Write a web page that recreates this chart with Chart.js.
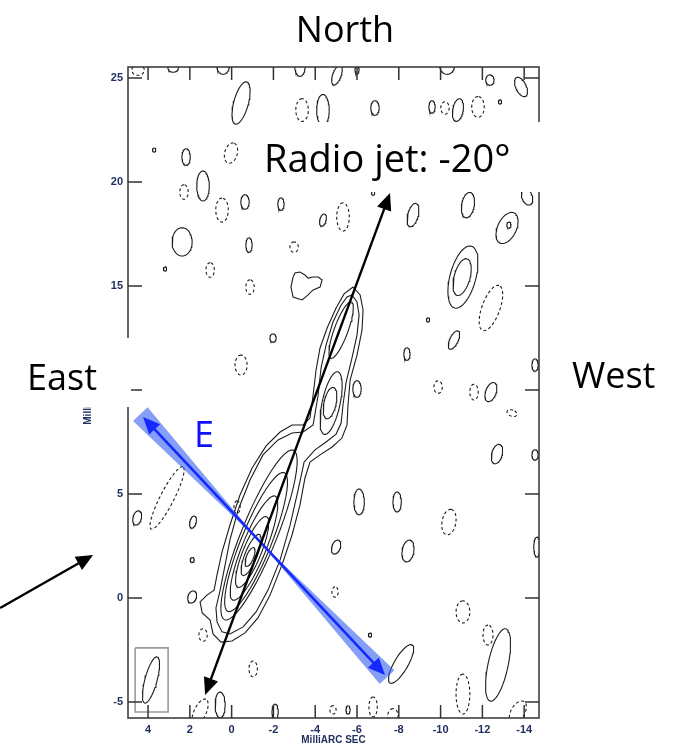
<!DOCTYPE html>
<html lang="en">
<head>
<meta charset="UTF-8">
<title>Radio jet map</title>
<script src="https://cdn.jsdelivr.net/npm/chart.js@4"></script>
<style>
  html, body { margin: 0; padding: 0; background: #fff; }
</style>
</head>
<body>
<canvas id="map" width="675" height="746"></canvas>
<script>
// axes, MilliARC SEC (RA grows to the left)
const xTicks = [4, 2, 0, -2, -4, -6, -8, -10, -12, -14];
const yTicks = [25, 20, 15, 10, 5, 0, -5];
const xRange = [-14.71, 4.96];
const yRange = [-5.77, 25.53];

// contours: [x, y, half width, half height, tilt deg (top leaning west)]
const solidOvals = [
    [2.80, 25.48, 0.25, 0.2, 0], [0.41, 25.58, 0.3, 0.4, 0], [-0.45, 23.80, 0.35, 1.05, 15],
    [-3.27, 25.58, 0.25, 0.5, 0], [-5.04, 25.14, 0.2, 0.5, 20], [-6.0, 25.4, 0.1, 0.2, 0],
    [-10.31, 25.58, 0.35, 0.4, 0], [-12.36, 24.9, 0.2, 0.25, 0], [-13.85, 24.57, 0.25, 0.5, -25],
    [-4.37, 23.46, 0.3, 0.75, 0], [-6.86, 23.56, 0.2, 0.35, 0], [-9.59, 23.61, 0.15, 0.3, 0],
    [-10.83, 23.46, 0.25, 0.55, 10], [-12.84, 23.85, 0.08, 0.1, 0], [3.71, 21.54, 0.08, 0.1, 0],
    [2.18, 21.2, 0.2, 0.4, 0], [1.37, 19.81, 0.3, 0.72, 0], [-0.64, 19.04, 0.2, 0.35, 0],
    [2.37, 17.12, 0.48, 0.68, 0], [-0.83, 16.97, 0.15, 0.35, 0], [-2.36, 18.94, 0.15, 0.3, 0],
    [-4.37, 18.17, 0.15, 0.3, 15], [3.19, 15.82, 0.08, 0.1, 0], [-1.98, 12.5, 0.15, 0.2, 0],
    [-6.77, 19.47, 0.08, 0.1, 0], [-8.68, 18.41, 0.25, 0.58, 15], [-11.31, 18.89, 0.3, 0.62, 10],
    [-14.14, 19.28, 0.25, 0.4, -20], [-13.18, 17.79, 0.45, 0.8, 25], [-13.27, 17.93, 0.1, 0.15, 0],
    [-11.07, 15.43, 0.62, 1.54, 15], [-11.03, 15.43, 0.38, 0.91, 15], [-9.40, 13.37, 0.08, 0.1, 0],
    [-10.64, 12.40, 0.2, 0.48, 25], [-8.39, 11.73, 0.15, 0.3, 0], [-14.52, 11.2, 0.15, 0.3, 0],
    [-6.0, 10.05, 0.2, 0.4, 0], [-12.41, 9.9, 0.25, 0.48, 20], [-12.70, 6.92, 0.25, 0.48, 15],
    [-14.52, 6.88, 0.15, 0.25, 0], [-6.10, 4.62, 0.25, 0.62, 0], [-7.92, 4.62, 0.2, 0.48, 0],
    [-8.44, 2.26, 0.28, 0.53, 10], [-5.0, 2.45, 0.2, 0.35, 20], [-14.61, 2.45, 0.15, 0.48, 0],
    [-12.75, -3.22, 0.48, 1.78, 12], [-8.11, -3.17, 0.33, 1.06, 30], [-6.62, -1.78, 0.08, 0.1, 0],
    [1.89, 1.83, 0.1, 0.12, 0], [1.89, 0.05, 0.2, 0.3, 20], [0.55, -5.14, 0.24, 0.62, 0],
    [-2.08, -5.48, 0.15, 0.38, 0], [-5.57, -5.38, 0.1, 0.2, 0], [4.52, 3.85, 0.2, 0.35, 15],
    [1.85, 3.65, 0.15, 0.3, 15]
];
const dashedOvals = [
    [4.48, 25.38, 0.3, 0.25, 0], [-3.37, 23.46, 0.3, 0.55, 0], [-10.21, 23.56, 0.2, 0.3, 0],
    [-11.79, 23.61, 0.3, 0.5, 0], [0.03, 21.39, 0.3, 0.5, 15], [2.28, 19.52, 0.2, 0.35, 0],
    [0.46, 18.65, 0.3, 0.58, 0], [-5.33, 18.32, 0.3, 0.68, 0], [-2.99, 16.87, 0.2, 0.25, 0],
    [1.03, 15.77, 0.2, 0.35, 0], [-0.88, 14.95, 0.2, 0.35, 0], [-12.41, 13.94, 0.43, 1.15, 20],
    [-9.88, 10.14, 0.2, 0.3, 0], [-11.60, 9.9, 0.2, 0.38, 0], [-13.42, 8.89, 0.25, 0.15, 20],
    [-10.40, 3.65, 0.33, 0.62, 10], [-11.07, -0.67, 0.33, 0.53, 0], [-12.27, -1.78, 0.24, 0.48, 0],
    [-6.77, -5.24, 0.2, 0.48, 0], [-7.72, -5.67, 0.25, 0.35, 0], [-11.07, -4.62, 0.33, 0.96, 0],
    [-13.70, -5.48, 0.33, 0.58, 30], [1.37, -1.78, 0.2, 0.3, 0], [-1.03, -3.41, 0.2, 0.38, 0],
    [-4.95, 0.29, 0.15, 0.25, 0], [1.51, -5.48, 0.29, 0.67, 25], [-4.85, -5.38, 0.15, 0.2, 0],
    [-0.45, 11.2, 0.29, 0.48, 0], [3.09, 4.81, 0.33, 1.68, 27], [-0.26, 4.37, 0.15, 0.3, 0]
];
// nested levels inside the jet (core, knot, tip)
const jetOvals = [
    [-1.31, 3.03, 0.85, 4.4, 22], [-1.17, 2.69, 0.72, 3.6, 22], [-1.07, 2.4, 0.57, 2.7, 22],
    [-0.98, 2.21, 0.43, 1.83, 22], [-0.93, 2.07, 0.29, 1.06, 22], [-0.88, 1.97, 0.17, 0.48, 22],
    [-4.76, 9.37, 0.43, 1.54, 12], [-4.71, 9.37, 0.29, 0.77, 12], [-5.24, 12.88, 0.33, 1.44, 20]
];
// outer two jet contours
const jetOuter = [
    [-5.81, 14.95], [-6.15, 14.57], [-6.29, 13.85], [-6.24, 12.88], [-6.0, 11.68], [-5.67, 10.48],
    [-5.57, 9.28], [-5.52, 8.32], [-5.28, 7.69], [-4.81, 7.26], [-4.23, 6.88], [-3.75, 6.54],
    [-3.51, 5.77], [-3.27, 4.47], [-2.89, 3.03], [-2.41, 1.59], [-1.84, 0.14], [-1.26, -0.96],
    [-0.64, -1.68], [-0.02, -2.07], [0.51, -2.12], [0.89, -1.73], [1.03, -1.06], [1.41, -0.72],
    [1.51, -0.19], [1.18, 0.14], [0.84, 0.38], [0.70, 1.11], [0.46, 2.21], [0.08, 3.51],
    [-0.40, 4.95], [-0.98, 6.25], [-1.65, 7.31], [-2.32, 7.98], [-2.89, 8.32], [-3.42, 8.32],
    [-3.75, 8.65], [-3.90, 9.76], [-4.04, 10.96], [-4.23, 12.02], [-4.57, 12.98], [-5.0, 13.94],
    [-5.38, 14.62]
];
const jetSecond = [
    [-5.76, 14.57], [-6.0, 14.23], [-6.10, 13.61], [-6.0, 12.64], [-5.76, 11.54], [-5.48, 10.38],
    [-5.33, 9.28], [-5.24, 8.41], [-5.0, 7.88], [-4.52, 7.5], [-3.99, 7.12], [-3.47, 6.54],
    [-3.18, 5.19], [-2.80, 3.51], [-2.32, 1.83], [-1.74, 0.38], [-1.17, -0.67], [-0.55, -1.39],
    [0.08, -1.73], [0.46, -1.63], [0.70, -1.15], [0.75, -0.48], [0.55, 0.38], [0.36, 1.35],
    [0.08, 2.79], [-0.31, 4.23], [-0.88, 5.67], [-1.50, 6.88], [-2.22, 7.6], [-2.89, 7.93],
    [-3.42, 7.98], [-3.90, 8.32], [-4.14, 9.76], [-4.28, 11.06], [-4.52, 12.16], [-4.85, 13.27],
    [-5.24, 14.09], [-5.52, 14.47]
];
const blob = [
    [-2.94, 15.43], [-2.84, 14.95], [-2.94, 14.47], [-3.37, 14.33], [-3.66, 14.57], [-3.90, 14.81],
    [-4.23, 14.95], [-4.33, 15.29], [-4.14, 15.43], [-3.90, 15.43], [-3.66, 15.38], [-3.51, 15.53],
    [-3.27, 15.67], [-3.03, 15.63]
];
const beam = [3.86, -3.94, 0.29, 1.15, 15];
const beamBox = [[4.62, -2.40], [3.04, -2.40], [3.04, -5.48], [4.62, -5.48]];

// annotations
const jetArrow = [[1.27, -4.66], [-7.58, 19.47]];
const eArrow = [[4.24, 8.70], [-7.34, -3.70]];
const eWaist = [-1.41, 2.64];
const pointer = [[11.08, -0.48], [6.63, 2.07]];

function ring(o) {
    const [cx, cy, a, b, tilt] = o;
    const r = tilt * Math.PI / 180;
    const pts = [];
    for (let i = 0; i <= 48; i++) {
        const t = i / 48 * 2 * Math.PI;
        const u = b * Math.cos(t), v = a * Math.sin(t);
        pts.push({ x: cx - u * Math.sin(r) + v * Math.cos(r), y: cy + u * Math.cos(r) + v * Math.sin(r) });
    }
    return pts;
}
function poly(list) {
    return list.concat([list[0]]).map(p => ({ x: p[0], y: p[1] }));
}
// join closed outlines into one series, null y breaks the line
function joined(outlines) {
    const out = [];
    outlines.forEach(pts => {
        out.push(...pts);
        out.push({ x: pts[pts.length - 1].x, y: null });
    });
    return out;
}

const solidData = joined(
    solidOvals.map(ring)
        .concat(jetOvals.map(ring))
        .concat([poly(jetOuter), poly(jetSecond), poly(blob), ring(beam)])
);
const dashedData = joined(dashedOvals.map(ring));

const ink = '#1c1c1c';
const tickInk = '#22305e';

const overlay = {
    id: 'overlay',
    afterDraw(chart) {
        const { ctx, chartArea: a, scales: { x, y } } = chart;
        const px = p => [x.getPixelForValue(p[0]), y.getPixelForValue(p[1])];
        ctx.save();

        // frame with ticks pointing inward on all four sides
        ctx.strokeStyle = '#333';
        ctx.lineWidth = 1.5;
        ctx.strokeRect(a.left, a.top, a.right - a.left, a.bottom - a.top);
        ctx.beginPath();
        xTicks.forEach(v => {
            const X = x.getPixelForValue(v);
            ctx.moveTo(X, a.bottom); ctx.lineTo(X, a.bottom - 13);
            ctx.moveTo(X, a.top); ctx.lineTo(X, a.top + 13);
        });
        yTicks.forEach(v => {
            const Y = y.getPixelForValue(v);
            ctx.moveTo(a.left, Y); ctx.lineTo(a.left + 14, Y);
            ctx.moveTo(a.right, Y); ctx.lineTo(a.right - 14, Y);
        });
        ctx.stroke();

        // white label boxes laid over the figure
        ctx.fillStyle = '#fff';
        ctx.fillRect(256, 122, 310, 70);
        ctx.fillRect(0, 338, 131, 69);

        // blue hourglass band behind the E arrow
        const A = px(eArrow[0]), B = px(eArrow[1]), W = px(eWaist);
        const len = Math.hypot(B[0] - A[0], B[1] - A[1]);
        const d = [(B[0] - A[0]) / len, (B[1] - A[1]) / len];
        const n = [-d[1], d[0]];
        const h = 10;
        const A2 = [A[0] - d[0] * 4, A[1] - d[1] * 4], B2 = [B[0] + d[0] * 3, B[1] + d[1] * 3];
        ctx.fillStyle = 'rgba(60,100,240,0.62)';
        ctx.beginPath();
        ctx.moveTo(A2[0] + n[0] * h, A2[1] + n[1] * h);
        ctx.lineTo(A2[0] - n[0] * h, A2[1] - n[1] * h);
        ctx.lineTo(W[0], W[1]);
        ctx.closePath();
        ctx.moveTo(B2[0] + n[0] * h, B2[1] + n[1] * h);
        ctx.lineTo(B2[0] - n[0] * h, B2[1] - n[1] * h);
        ctx.lineTo(W[0], W[1]);
        ctx.closePath();
        ctx.fill();

        drawArrow(ctx, A, B, '#1428ff', 2.6, true);
        drawArrow(ctx, px(jetArrow[0]), px(jetArrow[1]), '#000', 2.4, true);
        drawArrow(ctx, px(pointer[0]), px(pointer[1]), '#000', 2.4, false);

        // labels
        ctx.fillStyle = '#000';
        ctx.textBaseline = 'alphabetic';
        ctx.font = '36px "Open Sans"';
        ctx.textAlign = 'center';
        ctx.fillText('North', 345, 42);
        ctx.textAlign = 'right';
        ctx.fillText('East', 97, 390);
        ctx.textAlign = 'left';
        ctx.fillText('West', 572, 388);
        ctx.font = '38px "Open Sans"';
        ctx.fillText('Radio jet: -20°', 264, 172);
        ctx.fillStyle = '#1010ff';
        ctx.font = '36px "Open Sans"';
        ctx.fillText('E', 194, 447);
        ctx.restore();
    }
};

function drawArrow(ctx, from, to, color, width, both) {
    const hl = 17, hw = 15;
    const ang = Math.atan2(to[1] - from[1], to[0] - from[0]);
    const c = Math.cos(ang), s = Math.sin(ang);
    const head = (tip, dir) => {
        const bx = tip[0] - dir * hl * c, by = tip[1] - dir * hl * s;
        ctx.beginPath();
        ctx.moveTo(tip[0], tip[1]);
        ctx.lineTo(bx + hw / 2 * s, by - hw / 2 * c);
        ctx.lineTo(bx - hw / 2 * s, by + hw / 2 * c);
        ctx.closePath();
        ctx.fill();
    };
    ctx.strokeStyle = color;
    ctx.fillStyle = color;
    ctx.lineWidth = width;
    ctx.beginPath();
    const start = both ? [from[0] + hl * 0.8 * c, from[1] + hl * 0.8 * s] : from;
    ctx.moveTo(start[0], start[1]);
    ctx.lineTo(to[0] - hl * 0.8 * c, to[1] - hl * 0.8 * s);
    ctx.stroke();
    head(to, 1);
    if (both) head(from, -1);
}

const tickFont = { family: 'Liberation Sans', weight: 'bold', size: 11 };

new Chart(document.getElementById('map'), {
    type: 'scatter',
    data: {
        datasets: [
            {
                label: 'positive',
                data: solidData,
                showLine: true,
                borderColor: ink,
                borderWidth: 1.1,
                pointRadius: 0,
                tension: 0
            },
            {
                label: 'negative',
                data: dashedData,
                showLine: true,
                borderColor: ink,
                borderWidth: 1.1,
                borderDash: [3, 2.5],
                pointRadius: 0,
                tension: 0
            },
            {
                label: 'beam box',
                data: poly(beamBox),
                showLine: true,
                borderColor: '#9a9a9a',
                borderWidth: 1.6,
                pointRadius: 0
            }
        ]
    },
    options: {
        responsive: false,
        animation: false,
        devicePixelRatio: 1,
        layout: { padding: { top: 67, right: 136, bottom: 0, left: 0 } },
        plugins: { legend: { display: false }, tooltip: { enabled: false } },
        scales: {
            x: {
                type: 'linear',
                reverse: true,
                min: xRange[0],
                max: xRange[1],
                afterBuildTicks: s => { s.ticks = xTicks.map(v => ({ value: v })); },
                afterFit: s => { s.height = 28; },
                grid: { display: false, drawTicks: false },
                border: { display: false },
                ticks: {
                    autoSkip: false, maxRotation: 0, padding: 5,
                    color: tickInk, font: tickFont,
                    callback: v => String(v)
                },
                title: {
                    display: true, text: 'MilliARC SEC', color: tickInk,
                    font: { family: 'Liberation Sans', weight: 'bold', size: 10 },
                    padding: 0
                }
            },
            y: {
                type: 'linear',
                min: yRange[0],
                max: yRange[1],
                afterBuildTicks: s => { s.ticks = yTicks.map(v => ({ value: v })); },
                afterFit: s => { s.width = 128; },
                grid: { display: false, drawTicks: false },
                border: { display: false },
                ticks: {
                    autoSkip: false, padding: 5,
                    color: tickInk, font: tickFont,
                    callback: v => String(v)
                },
                title: {
                    display: true, text: 'MilliARC SEC', color: tickInk,
                    font: { family: 'Liberation Sans', weight: 'bold', size: 10 },
                    padding: { top: 82, bottom: 0 }
                }
            }
        }
    },
    plugins: [overlay]
});
</script>
</body>
</html>
